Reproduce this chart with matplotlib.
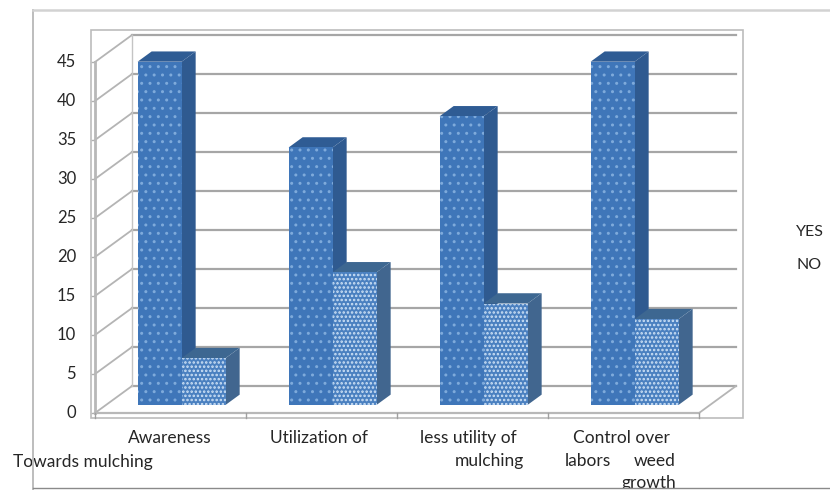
import matplotlib
matplotlib.use("Agg")
import matplotlib.pyplot as plt
from matplotlib.patches import Polygon, Rectangle

categories = ["Awareness", "Utilization of", "less utility of", "Control over"]
yes_values = [44, 33, 37, 44]
no_values = [6, 17, 13, 11]
y_ticks = list(range(0, 50, 5))

W, H = 830, 490
fig = plt.figure(figsize=(W / 100, H / 100), dpi=100)
plt.rcParams["font.family"] = "Lato"

# front plane of the fake 3d box, in pixels
left, right, bottom, top = 95, 699, 413, 62
ax = fig.add_axes([left / W, 1 - bottom / H, (right - left) / W, (bottom - top) / H])
ax.set_xlim(0, 4)
ax.set_ylim(0, 45)
ax.axis("off")

# depth 1 = back wall
DX = 37 / 151
DY = 27 / 7.8


def proj(x, y, d):
    return x + d * DX, y + d * DY


def box(x0, x1, val, face, side, topc, dots, hatch, hlw, d0=0.3, d1=0.68):
    fr = [proj(x0, 0, d0), proj(x1, 0, d0), proj(x1, val, d0), proj(x0, val, d0)]
    sd = [proj(x1, 0, d0), proj(x1, 0, d1), proj(x1, val, d1), proj(x1, val, d0)]
    tp = [proj(x0, val, d0), proj(x1, val, d0), proj(x1, val, d1), proj(x0, val, d1)]
    ax.add_patch(Polygon(sd, facecolor=side, edgecolor="none", clip_on=False, zorder=3))
    ax.add_patch(Polygon(tp, facecolor=topc, edgecolor="none", clip_on=False, zorder=3))
    p = Polygon(fr, facecolor=face, edgecolor=dots, hatch=hatch, lw=0, clip_on=False, zorder=4)
    p.set_hatch_linewidth(hlw)
    ax.add_patch(p)


grid = "#a6a6a6"
for v in y_ticks:
    bx0, by = proj(0, v, 1)
    bx1, _ = proj(4, v, 1)
    ax.plot([bx0, bx1], [by, by], color=grid, lw=1.6, clip_on=False, zorder=1)
    ax.plot([0, bx0], [v, by], color="#b4b4b4", lw=1.3, clip_on=False, zorder=1)
    ax.plot([-0.02, 0], [v, v], color="#b0b0b0", lw=1, clip_on=False, zorder=1)
    ax.text(-0.125, v, str(v), ha="right", va="center", fontsize=12, color="#262626")

# walls and floor edges
ax.plot([0, 0], [0, 45], color="#b8b8b8", lw=2, clip_on=False, zorder=1)
bx, by = proj(0, 0, 1)
ax.plot([bx, bx], [by, proj(0, 45, 1)[1]], color="#c4c4c4", lw=1, clip_on=False, zorder=1)
ax.plot([4, proj(4, 0, 1)[0]], [0, by], color="#b5b5b5", lw=1.3, clip_on=False, zorder=1)
ax.plot([0, 4], [0, 0], color="#b8b8b8", lw=1.6, clip_on=False, zorder=2)
for i in range(5):
    ax.plot([i, i], [0, -0.6], color="#a0a0a0", lw=1, clip_on=False, zorder=2)

bar_w = 44 / 151
for i in range(len(categories)):
    c = i + 0.5
    box(c - bar_w, c, yes_values[i], "#3f76b9", "#2f5a90", "#2f5c94", "#7eaadb", "..", 1.0)
for i in range(len(categories)):
    c = i + 0.5
    box(c, c + bar_w, no_values[i], "#4a80c0", "#41668f", "#3d6791", "#cfe2f6", "....", 1.2)

font = {"fontsize": 12.5, "color": "#262626"}
fig.text(128 / W, 1 - 438 / H, categories[0], va="center", **font)
fig.text(270 / W, 1 - 438 / H, categories[1], va="center", **font)
fig.text(420 / W, 1 - 438 / H, categories[2], va="center", **font)
fig.text(573 / W, 1 - 438 / H, categories[3], va="center", **font)
fig.text(13 / W, 1 - 462 / H, "Towards mulching", va="center", **font)
fig.text(455 / W, 1 - 461 / H, "mulching", va="center", **font)
fig.text(565 / W, 1 - 461 / H, "labors", va="center", **font)
fig.text(634 / W, 1 - 461 / H, "weed", va="center", **font)
fig.text(621 / W, 1 - 483 / H, "growth", va="center", **font)
fig.text(796 / W, 1 - 232 / H, "YES", va="center", fontsize=11.5, color="#262626")
fig.text(796 / W, 1 - 265 / H, "NO", va="center", fontsize=11.5, color="#262626")

# inner plot frame
fig.add_artist(Rectangle((91 / W, 1 - 418 / H), (743 - 91) / W, (418 - 30) / H, fill=False,
                         edgecolor="#bcbcbc", lw=1.2, transform=fig.transFigure, zorder=0))

# outer frame, the last text runs into the bottom line as in the source
fig.add_artist(Rectangle((0, 0), 1, 2 / H, facecolor="white", edgecolor="none",
                         transform=fig.transFigure, zorder=5))
fig.add_artist(plt.Line2D([33 / W, 33 / W], [1 - 10 / H, 1 - 490 / H], color="#bdbdbd", lw=1.4, zorder=6))
fig.add_artist(plt.Line2D([33 / W, 1], [1 - 10 / H, 1 - 10 / H], color="#d2d2d2", lw=1.8, zorder=6))
fig.add_artist(plt.Line2D([33 / W, 1], [1 - 488 / H, 1 - 488 / H], color="#8a8a8a", lw=1, zorder=6))

fig.savefig("out.png", dpi=100)
